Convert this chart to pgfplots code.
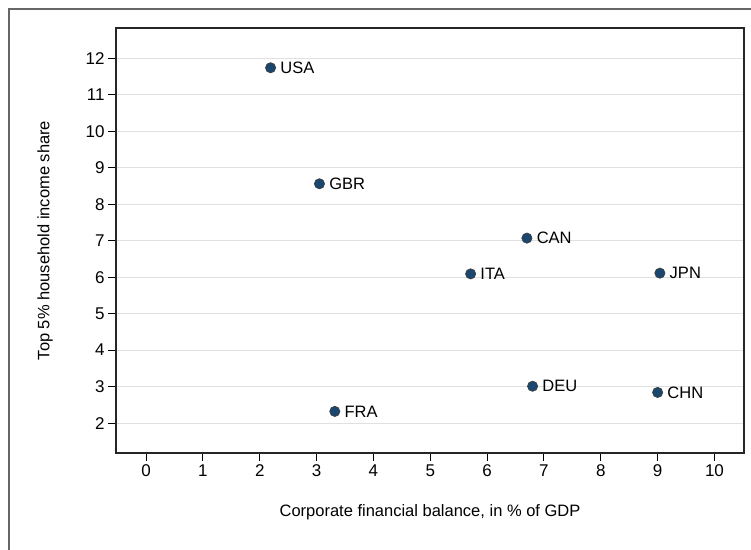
\documentclass[border=0pt]{standalone}
\usepackage{fontspec}
\setmainfont{Liberation Sans}
\usepackage{pgfplots}
\pgfplotsset{compat=1.18}
\definecolor{stnavy}{HTML}{1A476F}
\definecolor{gridc}{HTML}{E0E0E0}
\begin{document}
\begin{tikzpicture}[x=1pt,y=1pt]
\clip (0,0) rectangle (751,549);
\fill[white] (0,0) rectangle (751,549);
\draw[line width=1.5pt, color=black!60] (9,-20) rectangle (770,540);
\begin{axis}[at={(116pt,96pt)}, anchor=south west, scale only axis,
  width=628pt, height=425pt,
  xmin=-0.53, xmax=10.52, ymin=1.18, ymax=12.83,
  xtick={0,...,10}, ytick={2,...,12},
  xtick pos=bottom, ytick pos=left,
  tick align=outside, major tick length=8pt,
  tick style={line width=1pt, black},
  axis line style={line width=1.3pt, black!85},
  ymajorgrids, grid style={gridc, line width=1pt},
  /pgf/number format/assume math mode=true,
  ticklabel style={font=\fontsize{17}{20}\selectfont},
  label style={font=\fontsize{16.5}{20}\selectfont},
  xlabel={Corporate financial balance, in \% of GDP},
  ylabel={Top 5\% household income share},
  xlabel style={at={(axis description cs:0.5,0)}, anchor=center, yshift=-59.7pt},
  ylabel style={at={(axis description cs:0,0.5)}, anchor=center, yshift=71pt},
  clip=false,
]
\addplot[only marks, mark=*, mark size=5.1pt,
  mark options={fill=stnavy, draw=black!75, line width=0.7pt},
  nodes near coords, point meta=explicit symbolic,
  nodes near coords style={anchor=west, inner sep=0pt, xshift=9.5pt, font=\fontsize{16.5}{20}\selectfont, text=black}]
table[meta=label] {
x y label
2.19 11.74 USA
3.05 8.56 GBR
6.70 7.07 CAN
5.71 6.09 ITA
9.04 6.11 JPN
6.80 3.01 DEU
9.00 2.84 CHN
3.32 2.32 FRA
};
\end{axis}
\end{tikzpicture}
\end{document}
